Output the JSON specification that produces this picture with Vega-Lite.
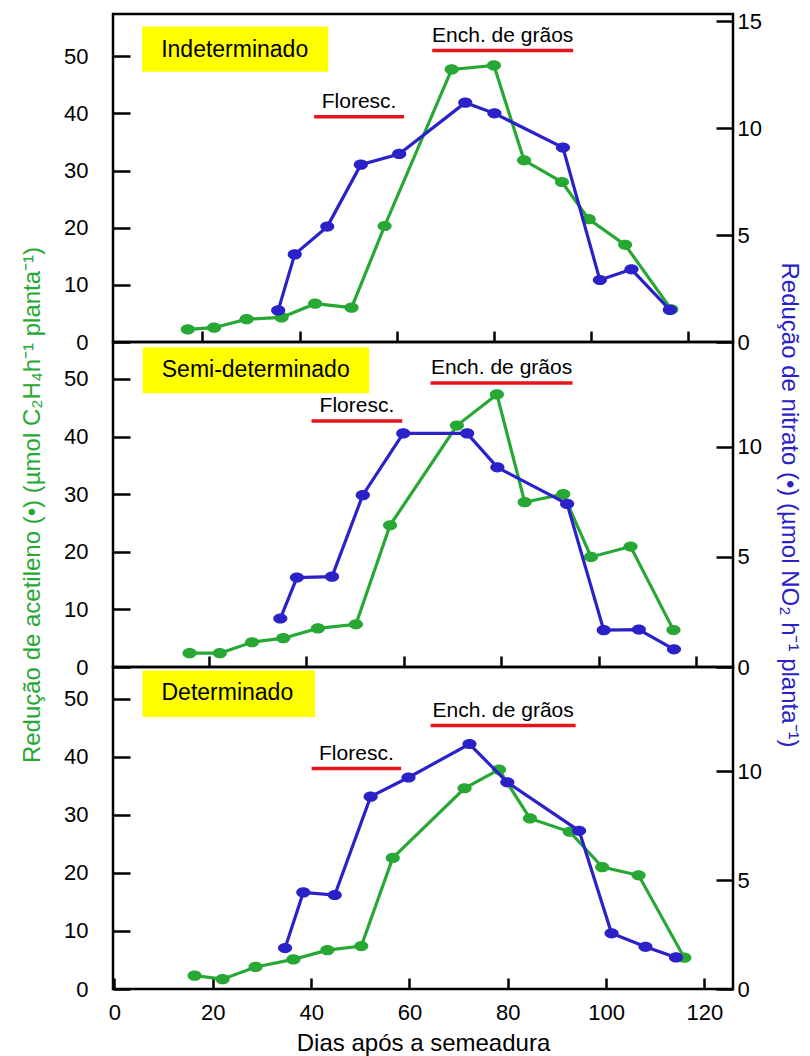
{
  "$schema": "https://vega.github.io/schema/vega-lite/v6.json",
  "background": "white",
  "padding": {"left": 19, "top": 9, "right": 8, "bottom": 0},
  "spacing": 0,
  "bounds": "flush",
  "config": {
    "font": "Liberation Sans",
    "view": {"stroke": "black", "strokeWidth": 2.5},
    "axis": {"grid": false, "domain": false, "labelFont": "Liberation Sans", "labelFontSize": 22, "labelColor": "black", "tickColor": "black", "tickWidth": 2.5, "titleFont": "Liberation Sans", "titleFontWeight": "normal", "titleFontSize": 24},
    "text": {"font": "Liberation Sans", "color": "black"}
  },
  "datasets": {
    "acetileno": [
      {"painel": "Indeterminado", "dia": 17.0, "valor": 2.2},
      {"painel": "Indeterminado", "dia": 22.4, "valor": 2.5},
      {"painel": "Indeterminado", "dia": 29.1, "valor": 4.0},
      {"painel": "Indeterminado", "dia": 36.3, "valor": 4.3},
      {"painel": "Indeterminado", "dia": 43.2, "valor": 6.7},
      {"painel": "Indeterminado", "dia": 50.7, "valor": 6.0},
      {"painel": "Indeterminado", "dia": 57.5, "valor": 20.3},
      {"painel": "Indeterminado", "dia": 71.3, "valor": 47.7},
      {"painel": "Indeterminado", "dia": 80.0, "valor": 48.4},
      {"painel": "Indeterminado", "dia": 86.2, "valor": 31.8},
      {"painel": "Indeterminado", "dia": 94.0, "valor": 28.0},
      {"painel": "Indeterminado", "dia": 99.5, "valor": 21.5},
      {"painel": "Indeterminado", "dia": 107.0, "valor": 17.0},
      {"painel": "Indeterminado", "dia": 116.5, "valor": 5.7},
      {"painel": "Semi-determinado", "dia": 16.1, "valor": 2.4},
      {"painel": "Semi-determinado", "dia": 22.3, "valor": 2.4},
      {"painel": "Semi-determinado", "dia": 28.9, "valor": 4.3},
      {"painel": "Semi-determinado", "dia": 35.3, "valor": 5.0},
      {"painel": "Semi-determinado", "dia": 42.4, "valor": 6.7},
      {"painel": "Semi-determinado", "dia": 50.2, "valor": 7.4},
      {"painel": "Semi-determinado", "dia": 57.2, "valor": 24.6},
      {"painel": "Semi-determinado", "dia": 70.9, "valor": 41.9},
      {"painel": "Semi-determinado", "dia": 79.1, "valor": 47.3},
      {"painel": "Semi-determinado", "dia": 84.8, "valor": 28.6},
      {"painel": "Semi-determinado", "dia": 92.7, "valor": 30.0},
      {"painel": "Semi-determinado", "dia": 98.4, "valor": 19.1},
      {"painel": "Semi-determinado", "dia": 106.5, "valor": 20.9},
      {"painel": "Semi-determinado", "dia": 115.3, "valor": 6.4},
      {"painel": "Determinado", "dia": 16.3, "valor": 2.3},
      {"painel": "Determinado", "dia": 22.0, "valor": 1.7},
      {"painel": "Determinado", "dia": 28.7, "valor": 3.8},
      {"painel": "Determinado", "dia": 36.4, "valor": 5.1},
      {"painel": "Determinado", "dia": 43.3, "valor": 6.7},
      {"painel": "Determinado", "dia": 50.2, "valor": 7.4},
      {"painel": "Determinado", "dia": 56.6, "valor": 22.6},
      {"painel": "Determinado", "dia": 71.2, "valor": 34.6},
      {"painel": "Determinado", "dia": 78.2, "valor": 37.8},
      {"painel": "Determinado", "dia": 84.5, "valor": 29.4},
      {"painel": "Determinado", "dia": 92.6, "valor": 27.1},
      {"painel": "Determinado", "dia": 99.2, "valor": 21.0},
      {"painel": "Determinado", "dia": 106.6, "valor": 19.6},
      {"painel": "Determinado", "dia": 115.9, "valor": 5.4}
    ],
    "nitrato": [
      {"painel": "Indeterminado", "dia": 35.6, "valor": 1.48},
      {"painel": "Indeterminado", "dia": 39.0, "valor": 4.1},
      {"painel": "Indeterminado", "dia": 45.7, "valor": 5.4},
      {"painel": "Indeterminado", "dia": 52.6, "valor": 8.3},
      {"painel": "Indeterminado", "dia": 60.5, "valor": 8.8},
      {"painel": "Indeterminado", "dia": 74.1, "valor": 11.2},
      {"painel": "Indeterminado", "dia": 80.1, "valor": 10.7},
      {"painel": "Indeterminado", "dia": 94.2, "valor": 9.1},
      {"painel": "Indeterminado", "dia": 101.8, "valor": 2.9},
      {"painel": "Indeterminado", "dia": 108.3, "valor": 3.4},
      {"painel": "Indeterminado", "dia": 116.2, "valor": 1.5},
      {"painel": "Semi-determinado", "dia": 34.7, "valor": 2.2},
      {"painel": "Semi-determinado", "dia": 38.1, "valor": 4.06},
      {"painel": "Semi-determinado", "dia": 45.3, "valor": 4.1},
      {"painel": "Semi-determinado", "dia": 51.6, "valor": 7.8},
      {"painel": "Semi-determinado", "dia": 59.9, "valor": 10.6},
      {"painel": "Semi-determinado", "dia": 73.0, "valor": 10.6},
      {"painel": "Semi-determinado", "dia": 79.2, "valor": 9.06},
      {"painel": "Semi-determinado", "dia": 93.5, "valor": 7.4},
      {"painel": "Semi-determinado", "dia": 101.0, "valor": 1.67},
      {"painel": "Semi-determinado", "dia": 108.2, "valor": 1.7},
      {"painel": "Semi-determinado", "dia": 115.4, "valor": 0.8},
      {"painel": "Determinado", "dia": 34.7, "valor": 1.88},
      {"painel": "Determinado", "dia": 38.4, "valor": 4.44},
      {"painel": "Determinado", "dia": 44.8, "valor": 4.32},
      {"painel": "Determinado", "dia": 52.1, "valor": 8.84},
      {"painel": "Determinado", "dia": 59.8, "valor": 9.72},
      {"painel": "Determinado", "dia": 72.2, "valor": 11.26},
      {"painel": "Determinado", "dia": 79.9, "valor": 9.5},
      {"painel": "Determinado", "dia": 94.5, "valor": 7.27},
      {"painel": "Determinado", "dia": 101.1, "valor": 2.56},
      {"painel": "Determinado", "dia": 108.0, "valor": 1.94},
      {"painel": "Determinado", "dia": 114.2, "valor": 1.45}
    ],
    "fases": [
      {"painel": "Indeterminado", "fase": "Floresc.", "dia": 43.0, "nivel": 39.4},
      {"painel": "Indeterminado", "fase": "Floresc.", "dia": 61.5, "nivel": 39.4},
      {"painel": "Indeterminado", "fase": "Ench. de grãos", "dia": 67.3, "nivel": 51.0},
      {"painel": "Indeterminado", "fase": "Ench. de grãos", "dia": 96.3, "nivel": 51.0},
      {"painel": "Semi-determinado", "fase": "Floresc.", "dia": 41.1, "nivel": 42.7},
      {"painel": "Semi-determinado", "fase": "Floresc.", "dia": 59.7, "nivel": 42.7},
      {"painel": "Semi-determinado", "fase": "Ench. de grãos", "dia": 65.5, "nivel": 49.3},
      {"painel": "Semi-determinado", "fase": "Ench. de grãos", "dia": 94.6, "nivel": 49.3},
      {"painel": "Determinado", "fase": "Floresc.", "dia": 40.1, "nivel": 38.0},
      {"painel": "Determinado", "fase": "Floresc.", "dia": 58.3, "nivel": 38.0},
      {"painel": "Determinado", "fase": "Ench. de grãos", "dia": 64.3, "nivel": 45.4},
      {"painel": "Determinado", "fase": "Ench. de grãos", "dia": 93.8, "nivel": 45.4}
    ],
    "caixas": [
      {"painel": "Indeterminado", "x0": 7.6, "x1": 45.9, "y0": 47.3, "y1": 55.2},
      {"painel": "Semi-determinado", "x0": 6.5, "x1": 52.9, "y0": 47.5, "y1": 55.5},
      {"painel": "Determinado", "x0": 5.7, "x1": 40.8, "y0": 46.9, "y1": 54.9}
    ]
  },
  "resolve": {"scale": {"x": "independent", "y": "independent"}},
  "vconcat": [
    {
      "width": 620, "height": 328,
      "resolve": {"scale": {"y": "independent"}},
      "layer": [
        {
          "layer": [
            {
              "data": {"name": "caixas"},
              "transform": [{"filter": "datum.painel === 'Indeterminado'"}],
              "mark": {"type": "rect", "color": "#ffff00"},
              "encoding": {
                "x": {"field": "x0", "type": "quantitative", "scale": {"domain": [1.6, 129.2], "nice": false, "zero": false}, "axis": {"values": [0, 20, 40, 60, 80, 100, 120], "tickSize": -11, "labels": false, "title": null}},
                "x2": {"field": "x1"},
                "y": {"field": "y0", "type": "quantitative", "scale": {"domain": [0, 57.4], "nice": false}, "axis": {"orient": "left", "values": [0, 10, 20, 30, 40, 50], "tickSize": -17, "labelPadding": 42, "title": null}},
                "y2": {"field": "y1"}
              }
            },
            {
              "data": {"name": "caixas"},
              "transform": [{"filter": "datum.painel === 'Indeterminado'"}],
              "mark": {"type": "text", "align": "left", "baseline": "middle", "dx": 19, "dy": 23, "fontSize": 23},
              "encoding": {
                "x": {"field": "x0", "type": "quantitative"},
                "y": {"field": "y1", "type": "quantitative"},
                "text": {"field": "painel"}
              }
            },
            {
              "data": {"name": "fases"},
              "transform": [{"filter": "datum.painel === 'Indeterminado'"}],
              "mark": {"type": "line", "color": "#e8141b", "strokeWidth": 3.5, "strokeCap": "butt"},
              "encoding": {
                "x": {"field": "dia", "type": "quantitative"},
                "y": {"field": "nivel", "type": "quantitative"},
                "detail": {"field": "fase"}
              }
            },
            {
              "data": {"name": "fases"},
              "transform": [{"filter": "datum.painel === 'Indeterminado'"}],
              "mark": {"type": "text", "baseline": "middle", "dy": -15, "fontSize": 21},
              "encoding": {
                "x": {"aggregate": "mean", "field": "dia", "type": "quantitative"},
                "y": {"aggregate": "mean", "field": "nivel", "type": "quantitative"},
                "text": {"field": "fase"}
              }
            },
            {
              "data": {"name": "acetileno"},
              "transform": [{"filter": "datum.painel === 'Indeterminado'"}],
              "mark": {"type": "line", "color": "#27a834", "strokeWidth": 3.2, "point": {"filled": true, "color": "#27a834", "size": 200, "shape": "M -1,0 A 1,0.72 0 1 1 1,0 A 1,0.72 0 1 1 -1,0 Z"}},
              "encoding": {
                "x": {"field": "dia", "type": "quantitative"},
                "y": {"field": "valor", "type": "quantitative"}
              }
            }
          ]
        },
        {
          "data": {"name": "nitrato"},
          "transform": [{"filter": "datum.painel === 'Indeterminado'"}],
          "mark": {"type": "line", "color": "#2a22c8", "strokeWidth": 3.2, "point": {"filled": true, "color": "#2a22c8", "size": 200, "shape": "M -1,0 A 1,0.72 0 1 1 1,0 A 1,0.72 0 1 1 -1,0 Z"}},
          "encoding": {
            "x": {"field": "dia", "type": "quantitative"},
            "y": {"field": "valor", "type": "quantitative", "scale": {"domain": [0, 15.35], "nice": false}, "axis": {"orient": "right", "values": [0, 5, 10, 15], "tickSize": -17, "labelPadding": 21, "title": null}}
          }
        }
      ]
    },
    {
      "width": 620, "height": 325,
      "resolve": {"scale": {"y": "independent"}},
      "layer": [
        {
          "layer": [
            {
              "data": {"name": "caixas"},
              "transform": [{"filter": "datum.painel === 'Semi-determinado'"}],
              "mark": {"type": "rect", "color": "#ffff00"},
              "encoding": {
                "x": {"field": "x0", "type": "quantitative", "scale": {"domain": [0.4, 127.5], "nice": false, "zero": false}, "axis": {"values": [0, 20, 40, 60, 80, 100, 120], "tickSize": -11, "labels": false, "title": null}},
                "x2": {"field": "x1"},
                "y": {"field": "y0", "type": "quantitative", "scale": {"domain": [0, 56.4], "nice": false}, "axis": {"orient": "left", "values": [0, 10, 20, 30, 40, 50], "tickSize": -17, "labelPadding": 42, "title": "Redução de acetileno (•) (µmol C₂H₄h⁻¹ planta⁻¹)", "titleColor": "#27a834", "titlePadding": 19}},
                "y2": {"field": "y1"}
              }
            },
            {
              "data": {"name": "caixas"},
              "transform": [{"filter": "datum.painel === 'Semi-determinado'"}],
              "mark": {"type": "text", "align": "left", "baseline": "middle", "dx": 19, "dy": 23, "fontSize": 23},
              "encoding": {
                "x": {"field": "x0", "type": "quantitative"},
                "y": {"field": "y1", "type": "quantitative"},
                "text": {"field": "painel"}
              }
            },
            {
              "data": {"name": "fases"},
              "transform": [{"filter": "datum.painel === 'Semi-determinado'"}],
              "mark": {"type": "line", "color": "#e8141b", "strokeWidth": 3.5, "strokeCap": "butt"},
              "encoding": {
                "x": {"field": "dia", "type": "quantitative"},
                "y": {"field": "nivel", "type": "quantitative"},
                "detail": {"field": "fase"}
              }
            },
            {
              "data": {"name": "fases"},
              "transform": [{"filter": "datum.painel === 'Semi-determinado'"}],
              "mark": {"type": "text", "baseline": "middle", "dy": -15, "fontSize": 21},
              "encoding": {
                "x": {"aggregate": "mean", "field": "dia", "type": "quantitative"},
                "y": {"aggregate": "mean", "field": "nivel", "type": "quantitative"},
                "text": {"field": "fase"}
              }
            },
            {
              "data": {"name": "acetileno"},
              "transform": [{"filter": "datum.painel === 'Semi-determinado'"}],
              "mark": {"type": "line", "color": "#27a834", "strokeWidth": 3.2, "point": {"filled": true, "color": "#27a834", "size": 200, "shape": "M -1,0 A 1,0.72 0 1 1 1,0 A 1,0.72 0 1 1 -1,0 Z"}},
              "encoding": {
                "x": {"field": "dia", "type": "quantitative"},
                "y": {"field": "valor", "type": "quantitative"}
              }
            }
          ]
        },
        {
          "data": {"name": "nitrato"},
          "transform": [{"filter": "datum.painel === 'Semi-determinado'"}],
          "mark": {"type": "line", "color": "#2a22c8", "strokeWidth": 3.2, "point": {"filled": true, "color": "#2a22c8", "size": 200, "shape": "M -1,0 A 1,0.72 0 1 1 1,0 A 1,0.72 0 1 1 -1,0 Z"}},
          "encoding": {
            "x": {"field": "dia", "type": "quantitative"},
            "y": {"field": "valor", "type": "quantitative", "scale": {"domain": [0, 14.75], "nice": false}, "axis": {"orient": "right", "values": [0, 5, 10, 15], "tickSize": -17, "labelPadding": 21, "title": "Redução de nitrato (•) (µmol NO₂ h⁻¹ planta⁻¹)", "titleColor": "#2a22c8", "titlePadding": 15}}
          }
        }
      ]
    },
    {
      "width": 620, "height": 322,
      "resolve": {"scale": {"y": "independent"}},
      "layer": [
        {
          "layer": [
            {
              "data": {"name": "caixas"},
              "transform": [{"filter": "datum.painel === 'Determinado'"}],
              "mark": {"type": "rect", "color": "#ffff00"},
              "encoding": {
                "x": {"field": "x0", "type": "quantitative", "scale": {"domain": [-0.3, 125.8], "nice": false, "zero": false}, "axis": {"values": [0, 20, 40, 60, 80, 100, 120], "tickSize": -11, "labelPadding": 24, "title": "Dias após a semeadura", "titlePadding": 8}},
                "x2": {"field": "x1"},
                "y": {"field": "y0", "type": "quantitative", "scale": {"domain": [0, 55.5], "nice": false}, "axis": {"orient": "left", "values": [0, 10, 20, 30, 40, 50], "tickSize": -17, "labelPadding": 42, "title": null}},
                "y2": {"field": "y1"}
              }
            },
            {
              "data": {"name": "caixas"},
              "transform": [{"filter": "datum.painel === 'Determinado'"}],
              "mark": {"type": "text", "align": "left", "baseline": "middle", "dx": 19, "dy": 23, "fontSize": 23},
              "encoding": {
                "x": {"field": "x0", "type": "quantitative"},
                "y": {"field": "y1", "type": "quantitative"},
                "text": {"field": "painel"}
              }
            },
            {
              "data": {"name": "fases"},
              "transform": [{"filter": "datum.painel === 'Determinado'"}],
              "mark": {"type": "line", "color": "#e8141b", "strokeWidth": 3.5, "strokeCap": "butt"},
              "encoding": {
                "x": {"field": "dia", "type": "quantitative"},
                "y": {"field": "nivel", "type": "quantitative"},
                "detail": {"field": "fase"}
              }
            },
            {
              "data": {"name": "fases"},
              "transform": [{"filter": "datum.painel === 'Determinado'"}],
              "mark": {"type": "text", "baseline": "middle", "dy": -15, "fontSize": 21},
              "encoding": {
                "x": {"aggregate": "mean", "field": "dia", "type": "quantitative"},
                "y": {"aggregate": "mean", "field": "nivel", "type": "quantitative"},
                "text": {"field": "fase"}
              }
            },
            {
              "data": {"name": "acetileno"},
              "transform": [{"filter": "datum.painel === 'Determinado'"}],
              "mark": {"type": "line", "color": "#27a834", "strokeWidth": 3.2, "point": {"filled": true, "color": "#27a834", "size": 200, "shape": "M -1,0 A 1,0.72 0 1 1 1,0 A 1,0.72 0 1 1 -1,0 Z"}},
              "encoding": {
                "x": {"field": "dia", "type": "quantitative"},
                "y": {"field": "valor", "type": "quantitative"}
              }
            }
          ]
        },
        {
          "data": {"name": "nitrato"},
          "transform": [{"filter": "datum.painel === 'Determinado'"}],
          "mark": {"type": "line", "color": "#2a22c8", "strokeWidth": 3.2, "point": {"filled": true, "color": "#2a22c8", "size": 200, "shape": "M -1,0 A 1,0.72 0 1 1 1,0 A 1,0.72 0 1 1 -1,0 Z"}},
          "encoding": {
            "x": {"field": "dia", "type": "quantitative"},
            "y": {"field": "valor", "type": "quantitative", "scale": {"domain": [0, 14.8], "nice": false}, "axis": {"orient": "right", "values": [0, 5, 10, 15], "tickSize": -17, "labelPadding": 21, "title": null}}
          }
        }
      ]
    }
  ]
}
